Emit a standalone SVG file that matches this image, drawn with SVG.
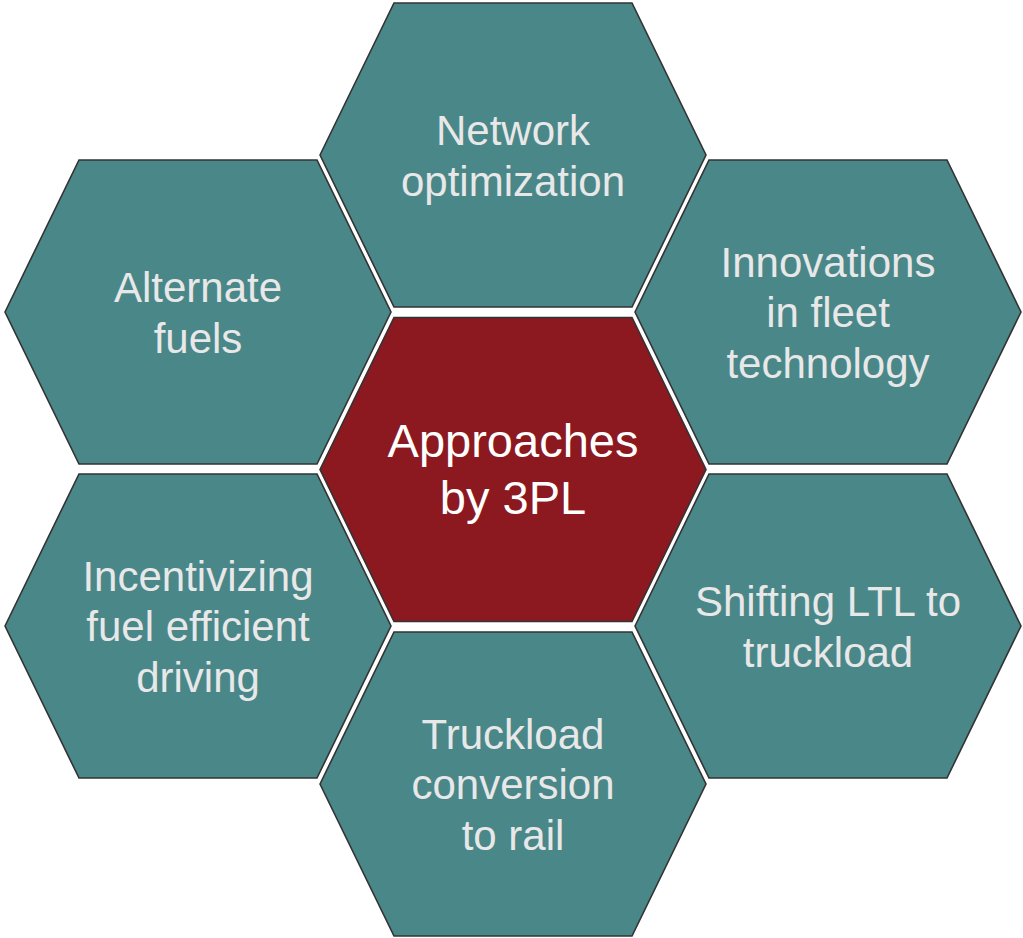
<svg xmlns="http://www.w3.org/2000/svg" width="1023" height="938" viewBox="0 0 1023 938">
  <defs>
    <!-- one hexagon, centred on the origin: 386 wide, 304 tall -->
    <polygon id="hex" points="-193,0 -119,-152 119,-152 193,0 119,152 -119,152"/>
  </defs>
  <style>
    .hex { stroke: #333333; stroke-width: 1.6; stroke-linejoin: miter; }
    .teal { fill: #4A8788; }
    .core { fill: #8C1820; }
    text { font-family: "Liberation Sans", Arial, sans-serif; text-anchor: middle; }
    .lbl { font-size: 42px; fill: #E8E8E8; }
    .main { font-size: 47px; fill: #FFFFFF; }
  </style>

  <rect width="1023" height="938" fill="#FFFFFF"/>

  <g id="connectors"/>

  <g id="network-optimization" transform="translate(513,155)">
    <use href="#hex" class="hex teal"/>
    <text class="lbl"><tspan x="0" y="-10">Network</tspan><tspan x="0" y="40.5">optimization</tspan></text>
  </g>

  <g id="alternate-fuels" transform="translate(198,312)">
    <use href="#hex" class="hex teal"/>
    <text class="lbl"><tspan x="0" y="-10">Alternate</tspan><tspan x="0" y="40.5">fuels</tspan></text>
  </g>

  <g id="fleet-technology" transform="translate(828,312)">
    <use href="#hex" class="hex teal"/>
    <text class="lbl"><tspan x="0" y="-35.5">Innovations</tspan><tspan x="0" y="15">in fleet</tspan><tspan x="0" y="65.5">technology</tspan></text>
  </g>

  <g id="approaches" transform="translate(513,469.5)">
    <use href="#hex" class="hex core"/>
    <text class="main"><tspan x="0" y="-12.5">Approaches</tspan><tspan x="0" y="44">by 3PL</tspan></text>
  </g>

  <g id="fuel-efficient-driving" transform="translate(198,626)">
    <use href="#hex" class="hex teal"/>
    <text class="lbl"><tspan x="0" y="-35.5">Incentivizing</tspan><tspan x="0" y="15">fuel efficient</tspan><tspan x="0" y="65.5">driving</tspan></text>
  </g>

  <g id="ltl-to-truckload" transform="translate(828,626)">
    <use href="#hex" class="hex teal"/>
    <text class="lbl"><tspan x="0" y="-10">Shifting LTL to</tspan><tspan x="0" y="40.5">truckload</tspan></text>
  </g>

  <g id="truckload-to-rail" transform="translate(513,784)">
    <use href="#hex" class="hex teal"/>
    <text class="lbl"><tspan x="0" y="-35.5">Truckload</tspan><tspan x="0" y="15">conversion</tspan><tspan x="0" y="65.5">to rail</tspan></text>
  </g>
</svg>
